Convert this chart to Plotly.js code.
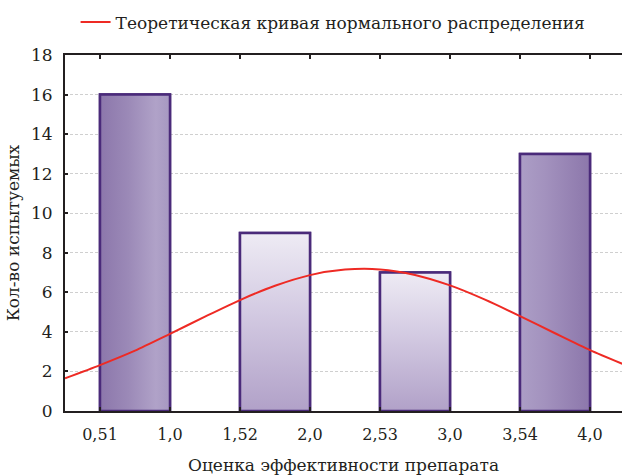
<!DOCTYPE html>
<html>
<head>
<meta charset="utf-8">
<script src="https://cdn.plot.ly/plotly-3.0.1.min.js"></script>
<style>
  html, body { margin: 0; padding: 0; background: #fff; }
  #chart { width: 622px; height: 476px; }
</style>
</head>
<body>
<div id="chart"></div>
<script>
// Interval boundaries of the efficacy score, evenly spaced along the axis
const edgeLabels = ['0,51', '1,0', '1,52', '2,0', '2,53', '3,0', '3,54', '4,0'];
const edgePos = [0, 1, 2, 3, 4, 5, 6, 7];

// Number of subjects in each interval (interval k spans edges 2k .. 2k+1)
const counts = [16, 9, 7, 13];

// Theoretical normal curve, sampled along the same axis
const curveX = [-0.5, 0, 0.5, 1, 1.5, 2, 2.5, 3, 3.5, 4, 4.5, 5, 5.5, 6, 6.5, 7, 7.46];
const curveY = [1.65, 2.32, 3.05, 3.9, 4.77, 5.61, 6.33, 6.87, 7.15, 7.16, 6.88, 6.35, 5.63, 4.8, 3.93, 3.08, 2.39];

// Gradient styling for each bar
const barGradients = [
  { type: 'horizontal', colorscale: [[0, '#8c77ab'], [0.4, '#9b89b7'], [0.8, '#b0a2c8'], [1, '#a698c1']] },
  { type: 'vertical',   colorscale: [[0, '#b1a1c8'], [0.55, '#d3cae2'], [1, '#eeebf4']] },
  { type: 'vertical',   colorscale: [[0, '#b1a1c8'], [0.55, '#d3cae2'], [1, '#eeebf4']] },
  { type: 'horizontal', colorscale: [[0, '#ac9ec6'], [0.35, '#a392be'], [1, '#8c77ab']] }
];

const outline = '#4a2a7a';
const ink = '#231f20';
const serif = 'DejaVu Serif';

const traces = [];

// Gradient-filled rectangles for each interval
counts.forEach((v, k) => {
  const x0 = edgePos[2 * k], x1 = edgePos[2 * k + 1];
  traces.push({
    type: 'scatter',
    mode: 'lines',
    x: [x0, x0, x1, x1, x0],
    y: [0, v, v, 0, 0],
    fill: 'toself',
    fillgradient: barGradients[k],
    line: { color: outline, width: 2.5 },
    showlegend: false,
    hoverinfo: 'skip'
  });
});

// Bar outlines carrying the counts
traces.push({
  type: 'bar',
  x: counts.map((_, k) => (edgePos[2 * k] + edgePos[2 * k + 1]) / 2),
  y: counts,
  width: counts.map((_, k) => edgePos[2 * k + 1] - edgePos[2 * k]),
  marker: { color: 'rgba(0,0,0,0)', line: { color: outline, width: 2.5 } },
  showlegend: false
});

// Normal distribution curve
traces.push({
  type: 'scatter',
  mode: 'lines',
  name: 'Теоретическая кривая нормального распределения',
  x: curveX,
  y: curveY,
  line: { color: '#ee2a24', width: 2, shape: 'spline', smoothing: 0.7 },
  cliponaxis: false
});

const layout = {
  width: 622,
  height: 476,
  margin: { l: 65, r: 0, t: 55, b: 65, autoexpand: false },
  paper_bgcolor: '#ffffff',
  plot_bgcolor: '#ffffff',
  font: { family: serif, color: ink, size: 17 },
  showlegend: true,
  legend: {
    orientation: 'h',
    x: 0.019, xanchor: 'left',
    y: 1.142, yanchor: 'top',
    font: { family: serif, size: 17, color: ink },
    itemwidth: 30,
    bgcolor: 'rgba(0,0,0,0)'
  },
  xaxis: {
    range: [-0.5, 7.457],
    tickvals: edgePos,
    ticktext: edgeLabels,
    tickangle: 0,
    showgrid: false,
    zeroline: false,
    showline: true,
    linecolor: ink,
    linewidth: 2,
    mirror: 'ticks',
    ticks: 'inside',
    ticklen: 4,
    tickwidth: 2,
    tickcolor: ink,
    ticklabelstandoff: 8,
    tickfont: { family: serif, size: 16, color: ink },
    title: { text: 'Оценка эффективности препарата', font: { family: serif, size: 17, color: ink }, standoff: 16 }
  },
  yaxis: {
    range: [0, 18],
    tickvals: [0, 2, 4, 6, 8, 10, 12, 14, 16, 18],
    showgrid: true,
    gridcolor: '#cfcfcf',
    griddash: '3px,2px',
    gridwidth: 1,
    zeroline: false,
    showline: true,
    linecolor: ink,
    linewidth: 2,
    ticks: 'inside',
    ticklen: 3,
    tickwidth: 2,
    tickcolor: ink,
    ticklabelstandoff: 7,
    tickfont: { family: serif, size: 17, color: ink },
    title: { text: 'Кол-во испытуемых', font: { family: serif, size: 17, color: ink }, standoff: 7 }
  }
};

Plotly.newPlot('chart', traces, layout, { displayModeBar: false, staticPlot: true });
</script>
</body>
</html>
